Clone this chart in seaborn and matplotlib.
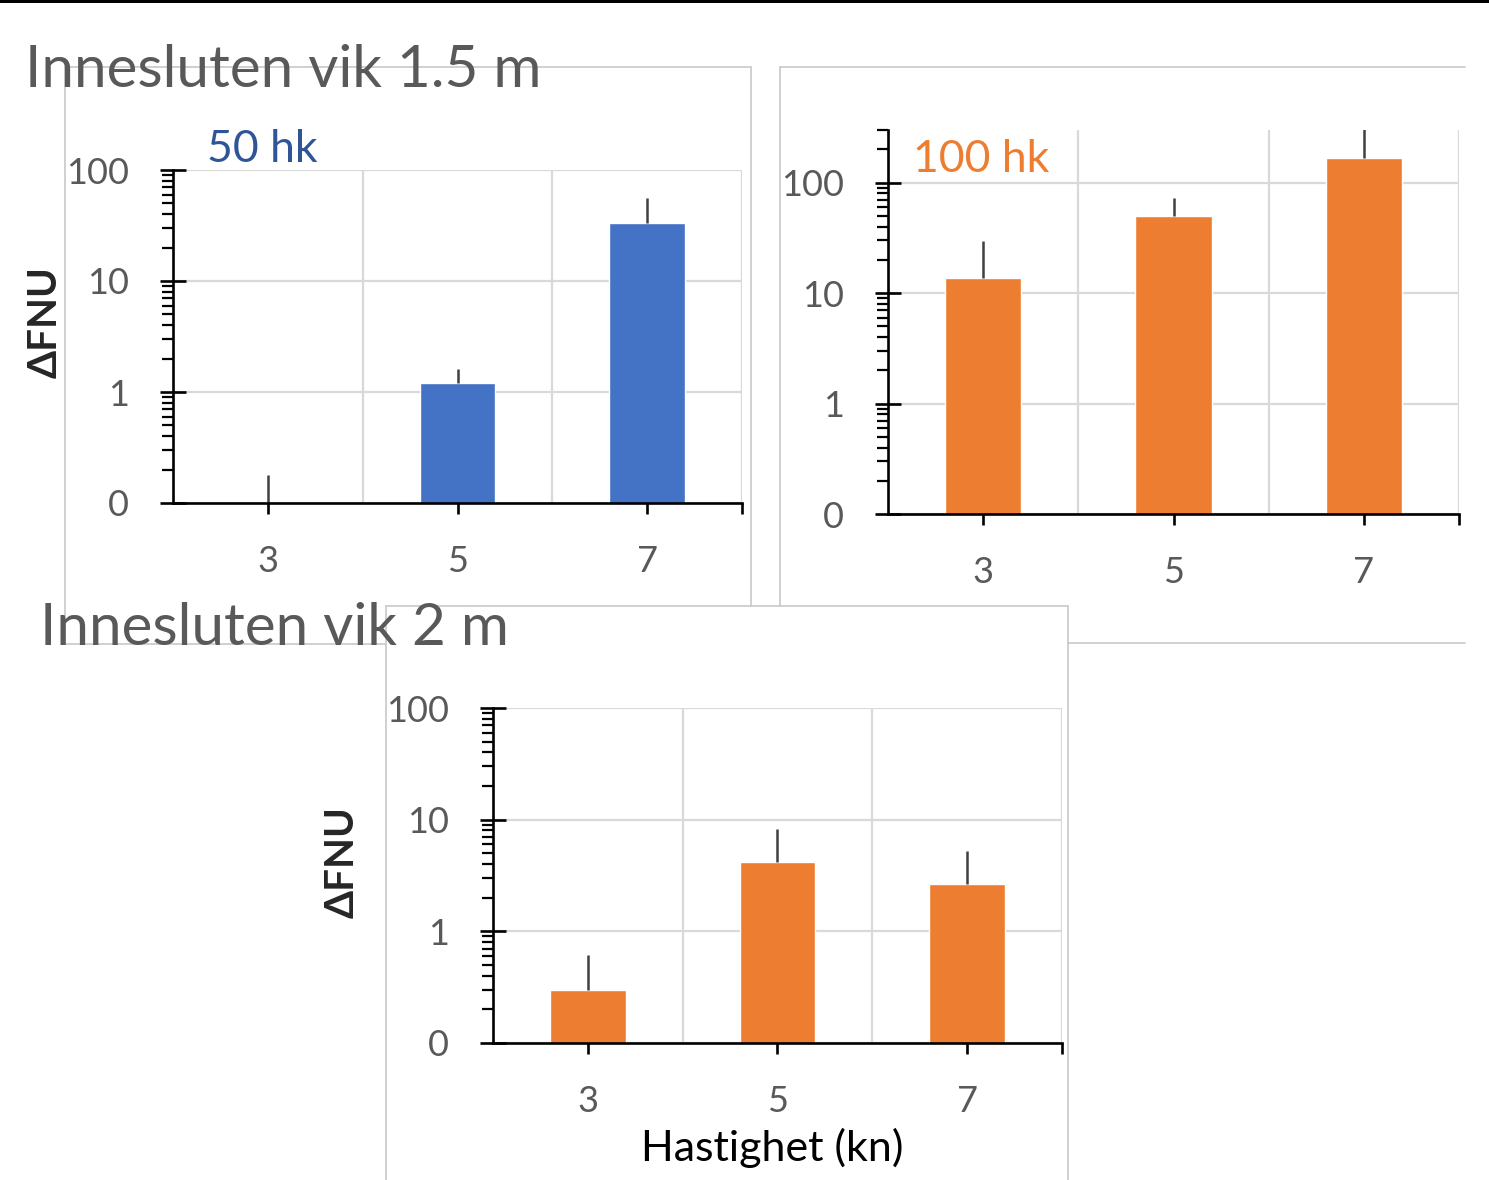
import numpy as np
import pandas as pd
import matplotlib
matplotlib.use("Agg")
import matplotlib.pyplot as plt
import seaborn as sns
from matplotlib.patches import Rectangle
from matplotlib.lines import Line2D
from matplotlib.ticker import FixedLocator, FixedFormatter, LogLocator, NullFormatter

# data (mean and plus-error, FNU)
speeds = ["3", "5", "7"]
fnu_15m_50hk = [0.0, 1.2, 33.6]
err_15m_50hk = [0.18, 0.4, 22.0]
fnu_15m_100hk = [13.8, 50.0, 166.0]
err_15m_100hk = [15.6, 23.0, 140.0]
fnu_2m_100hk = [0.30, 4.15, 2.64]
err_2m_100hk = [0.31, 4.15, 2.6]
y_ticks = [0.1, 1, 10, 100]
y_tick_labels = ["0", "1", "10", "100"]

BLUE = "#4472C4"
ORANGE = "#ED7D31"
GREY_TXT = "#595959"
GRID = "#D9D9D9"
FRAME = "#C8C8C8"

sns.set_style("white")
plt.rcParams["font.family"] = ["Lato", "DejaVu Sans"]

W, H = 1489, 1180
fig = plt.figure(figsize=(W / 100, H / 100), dpi=100)


def fx(x):
    return x / W


def fy(y):
    return 1 - y / H


def frame(x0, y0, x1, y1, edges, z):
    # white chart-area background plus the visible border edges
    fig.add_artist(Rectangle((fx(x0), fy(y1)), fx(x1) - fx(x0), fy(y0) - fy(y1),
                             transform=fig.transFigure, facecolor="white",
                             edgecolor="none", zorder=z))
    pts = {"top": ([x0, x1], [y0, y0]), "bottom": ([x0, x1], [y1, y1]),
           "left": ([x0, x0], [y0, y1]), "right": ([x1, x1], [y0, y1])}
    for e in edges:
        xs, ys = pts[e]
        fig.add_artist(Line2D([fx(v) for v in xs], [fy(v) for v in ys],
                              transform=fig.transFigure, color=FRAME, lw=1.2,
                              zorder=z + 0.1))


def panel(box, values, errors, color, ymax, z):
    x0, y0, x1, y1 = box
    ax = fig.add_axes([fx(x0), fy(y1), fx(x1) - fx(x0), fy(y0) - fy(y1)])
    ax.set_zorder(z)
    ax.patch.set_alpha(0)
    df = pd.DataFrame({"speed": speeds, "fnu": values})
    sns.barplot(data=df, x="speed", y="fnu", color=color, saturation=1,
                width=0.4, errorbar=None, ax=ax, zorder=2)
    pos = np.arange(len(speeds))
    ax.errorbar(pos, values, yerr=[np.zeros(len(values)), errors], fmt="none",
                ecolor="#404040", elinewidth=1.8, capsize=0, zorder=3)
    ax.set_yscale("log")
    ax.set_ylim(0.1, ymax)
    ax.set_xlim(-0.5, len(speeds) - 0.5)

    ax.yaxis.set_major_locator(FixedLocator(y_ticks))
    ax.yaxis.set_major_formatter(FixedFormatter(y_tick_labels))
    ax.yaxis.set_minor_locator(LogLocator(base=10, subs=np.arange(2, 10)))
    ax.yaxis.set_minor_formatter(NullFormatter())
    ax.xaxis.set_minor_locator(FixedLocator([len(speeds) - 0.5]))

    ax.grid(axis="y", which="major", color=GRID, lw=1.6, zorder=0)
    for b in pos + 0.5:
        ax.axvline(b, color=GRID, lw=1.6, zorder=0)
    ax.set_axisbelow(True)

    for s in ["top", "right"]:
        ax.spines[s].set_visible(False)
    for s in ["left", "bottom"]:
        ax.spines[s].set_color("black")
        ax.spines[s].set_linewidth(1.9)
        ax.spines[s].set_zorder(4)

    ax.tick_params(axis="y", which="major", left=True, direction="inout", length=19,
                   width=1.9, color="black", labelsize=26, labelcolor=GREY_TXT, pad=22)
    ax.tick_params(axis="y", which="minor", left=True, direction="out", length=8,
                   width=1.6, color="black")
    ax.tick_params(axis="x", which="both", bottom=True, direction="out", length=8,
                   width=1.9, color="black", labelsize=26, labelcolor=GREY_TXT, pad=22)
    ax.set_xlabel("")
    ax.set_ylabel("")
    return ax


# top rule of the slide
fig.add_artist(Rectangle((0, fy(3)), 1, fy(0) - fy(3), transform=fig.transFigure,
                         facecolor="black", edgecolor="none", zorder=20))

# Innesluten vik 1.5 m, 50 hk
frame(65, 67, 751, 644, ["top", "left", "right", "bottom"], 1)
panel((173, 170, 742, 503), fnu_15m_50hk, err_15m_50hk, BLUE, 100, 2)
fig.text(fx(207), fy(150), "50 hk", color="#2F5597", fontsize=32,
         ha="left", va="center", zorder=10)
fig.text(fx(45), fy(322), "ΔFNU", rotation=90, fontsize=29, fontweight="bold",
         ha="center", va="center", zorder=10)

# Innesluten vik 1.5 m, 100 hk
frame(780, 67, 1465, 643, ["top", "left", "bottom"], 3)
panel((888, 130, 1459, 514), fnu_15m_100hk, err_15m_100hk, ORANGE, 300, 4)
fig.text(fx(913), fy(160), "100 hk", color=ORANGE, fontsize=32,
         ha="left", va="center", zorder=10)

# Innesluten vik 2 m
frame(386, 606, 1068, 1200, ["top", "left", "right"], 5)
panel((493, 708, 1062, 1043), fnu_2m_100hk, err_2m_100hk, ORANGE, 100, 6)
fig.text(fx(342), fy(862), "ΔFNU", rotation=90, fontsize=29, fontweight="bold",
         ha="center", va="center", zorder=10)
fig.text(fx(772), fy(1148), "Hastighet (kn)", fontsize=31, color="black",
         ha="center", va="center", zorder=10)

# slide titles
fig.text(fx(25), fy(87), "Innesluten vik 1.5 m", fontsize=42, color=GREY_TXT,
         ha="left", va="baseline", zorder=10)
fig.text(fx(40), fy(645), "Innesluten vik 2 m", fontsize=42, color=GREY_TXT,
         ha="left", va="baseline", zorder=10)

fig.savefig("out.png", dpi=100, facecolor="white")
